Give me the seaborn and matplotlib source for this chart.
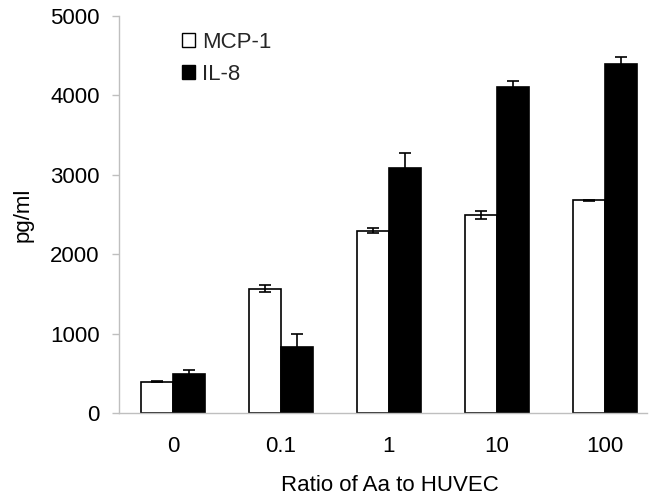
import pandas as pd
import matplotlib
matplotlib.use("Agg")
import matplotlib.pyplot as plt
import seaborn as sns

# values
ratios = ["0", "0.1", "1", "10", "100"]
mcp1 = [400, 1570, 2300, 2500, 2680]
mcp1_err = [12, 40, 30, 50, 10]
il8 = [490, 840, 3090, 4110, 4400]
il8_err = [55, 160, 180, 70, 90]

df = pd.DataFrame({
    "Ratio": ratios * 2,
    "pg/ml": mcp1 + il8,
    "Marker": ["MCP-1"] * len(ratios) + ["IL-8"] * len(ratios),
})
errs = {"MCP-1": mcp1_err, "IL-8": il8_err}

sns.set_theme(style="white")
plt.rcParams["font.family"] = ["Liberation Sans", "DejaVu Sans"]
fs = 16

fig = plt.figure(figsize=(6.5, 4.96), dpi=100)
ax = fig.add_axes([0.183, 0.1667, 0.812, 0.801])

sns.barplot(data=df, x="Ratio", y="pg/ml", hue="Marker", order=ratios,
            hue_order=["MCP-1", "IL-8"],
            palette={"MCP-1": "white", "IL-8": "black"},
            edgecolor="black", linewidth=1.2, width=0.59, errorbar=None,
            ax=ax)

# error bars from the bar positions seaborn drew
for cont, name in zip(ax.containers, ["MCP-1", "IL-8"]):
    xs = [b.get_x() + b.get_width() / 2 for b in cont]
    hs = [b.get_height() for b in cont]
    ax.errorbar(xs, hs, yerr=errs[name], fmt="none", ecolor="black",
                elinewidth=1.2, capsize=4, capthick=1.2, zorder=5)

ax.set_ylim(0, 5000)
ax.set_xlim(-0.503, 4.39)
ax.set_yticks([0, 1000, 2000, 3000, 4000, 5000])

for side in ["top", "right"]:
    ax.spines[side].set_visible(False)
for side in ["left", "bottom"]:
    ax.spines[side].set_color("#bfbfbf")
    ax.spines[side].set_linewidth(1.0)

ax.tick_params(axis="y", which="both", left=True, length=5, width=1,
               color="#bfbfbf", labelsize=fs, pad=9, labelcolor="black")
ax.tick_params(axis="x", bottom=False, length=0, labelsize=fs, pad=16,
               labelcolor="black")

ax.set_ylabel("pg/ml", fontsize=fs, labelpad=12, color="black")
ax.set_xlabel("Ratio of Aa to HUVEC", fontsize=fs, color="black")
ax.xaxis.set_label_coords(0.513, -0.155)

handles, labels = ax.get_legend_handles_labels()
for h in handles:
    h.set_edgecolor("black")
    h.set_linewidth(1.0)
ax.legend(handles, labels, frameon=False, loc="upper left",
          bbox_to_anchor=(182 / 650, 1 - 32 / 496),
          bbox_transform=fig.transFigure, borderpad=0, borderaxespad=0,
          fontsize=fs, handlelength=0.6, handleheight=0.6,
          handletextpad=0.3, labelspacing=0.5)

fig.savefig("out.png", dpi=100)
